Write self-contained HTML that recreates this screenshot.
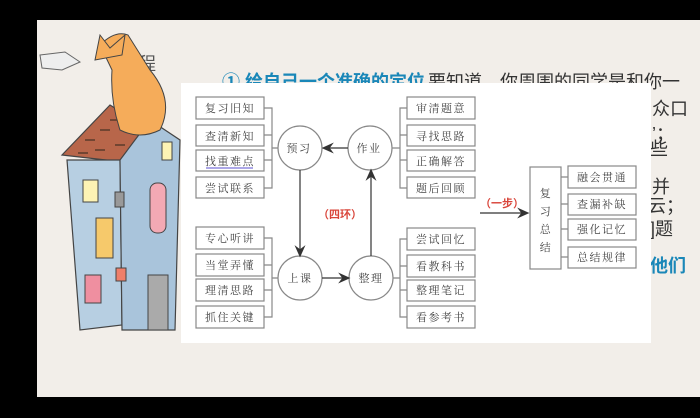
<!DOCTYPE html>
<html><head><meta charset="utf-8"><style>
body{margin:0;width:700px;height:418px;background:#000;overflow:hidden;position:relative;font-family:"Liberation Sans","Noto Sans CJK SC",sans-serif}
.slide{position:absolute;left:37px;top:20px;width:663px;height:377px;background:#f2eee9}
.t{position:absolute;font-size:18px;color:#333;white-space:nowrap}
.b{color:#1a87b8;font-weight:bold}
</style></head><body>
<div class="slide"></div>
<div class="t" style="left:138px;top:50px;color:#555">程</div>
<div class="t b" style="left:222px;top:68px">① 给自己一个准确的定位</div>
<div class="t" style="left:428px;top:68px">要知道，你周围的同学是和你一</div>
<div class="t" style="left:652px;top:95px">众口</div>
<div class="t" style="left:652px;top:120px">’；</div>
<div class="t" style="left:650px;top:135px">些</div>
<div class="t" style="left:652px;top:173px">并</div>
<div class="t" style="left:648px;top:192px">云；</div>
<div class="t" style="left:650px;top:215px">]题</div>
<div class="t b" style="left:650px;top:252px">他们</div>
<svg width="700" height="418" style="position:absolute;left:0;top:0">
<!-- house -->
<path d="M62 155 L110 105 L150 130 L150 165 Z" fill="#b8664a" stroke="#444" stroke-width="1.2"/>
<path d="M67 160 L120 160 L122 325 L80 330 Z" fill="#b7cfe2" stroke="#444" stroke-width="1.2"/>
<path d="M120 160 L150 120 L180 140 L175 330 L122 330 Z" fill="#a9c4db" stroke="#444" stroke-width="1.2"/>
<g stroke="#5a3a2a" stroke-width="1.5"><line x1="85" y1="140" x2="95" y2="140"/><line x1="100" y1="130" x2="110" y2="130"/><line x1="115" y1="145" x2="125" y2="145"/><line x1="78" y1="153" x2="88" y2="153"/><line x1="95" y1="150" x2="105" y2="150"/><line x1="110" y1="120" x2="120" y2="120"/></g>
<rect x="83" y="180" width="15" height="22" fill="#fdf3b4" stroke="#444"/>
<rect x="96" y="218" width="17" height="40" fill="#f6c96b" stroke="#444"/>
<rect x="85" y="275" width="16" height="28" fill="#ef8fa0" stroke="#444"/>
<rect x="150" y="183" width="16" height="50" rx="7" fill="#f3a9b4" stroke="#444"/>
<rect x="115" y="192" width="9" height="15" fill="#999" stroke="#444"/>
<rect x="116" y="268" width="10" height="13" fill="#ef7f6a" stroke="#444"/>
<rect x="148" y="275" width="20" height="55" fill="#aaa" stroke="#444"/>
<rect x="162" y="142" width="10" height="18" fill="#fdf3b4" stroke="#444"/>
<!-- fox -->
<path d="M100 45 Q115 30 128 35 L150 70 Q175 100 160 130 Q140 140 120 130 Q110 100 112 70 Z" fill="#f5ac5a" stroke="#444"/>
<path d="M95 60 L100 35 L110 48 L125 35 L122 55 Z" fill="#f5ac5a" stroke="#444"/>
<path d="M40 55 L65 52 L80 62 L62 70 L42 68 Z" fill="#eee" stroke="#666"/>
<!-- panel -->
<rect x="181" y="83" width="470" height="260" fill="#fff"/>
<g fill="#fff" stroke="#888" stroke-width="1.2">
<rect x="196" y="97" width="68" height="22"/><rect x="196" y="125" width="68" height="21"/><rect x="196" y="150" width="68" height="21"/><rect x="196" y="177" width="68" height="21"/>
<rect x="196" y="227" width="68" height="22"/><rect x="196" y="254" width="68" height="22"/><rect x="196" y="279" width="68" height="22"/><rect x="196" y="306" width="68" height="22"/>
<rect x="407" y="97" width="68" height="22"/><rect x="407" y="125" width="68" height="21"/><rect x="407" y="150" width="68" height="21"/><rect x="407" y="177" width="68" height="21"/>
<rect x="407" y="228" width="68" height="22"/><rect x="407" y="255" width="68" height="22"/><rect x="407" y="280" width="68" height="21"/><rect x="407" y="306" width="68" height="22"/>
<rect x="530" y="167" width="31" height="102"/>
<rect x="568" y="166" width="68" height="22"/><rect x="568" y="194" width="68" height="21"/><rect x="568" y="219" width="68" height="21"/><rect x="568" y="247" width="68" height="21"/>
<circle cx="300" cy="148" r="22"/><circle cx="370" cy="148" r="22"/><circle cx="300" cy="278" r="22"/><circle cx="371" cy="278" r="22"/>
</g>
<g fill="none" stroke="#888" stroke-width="1.2">
<path d="M264 108 H272 V188 H264 M264 135 H272 M264 160 H272 M272 148 H278"/>
<path d="M264 238 H272 V317 H264 M264 265 H272 M264 290 H272 M272 278 H278"/>
<path d="M407 108 H400 V188 H407 M407 135 H400 M407 160 H400 M400 148 H392"/>
<path d="M407 239 H400 V317 H407 M407 266 H400 M407 290 H400 M400 278 H393"/>
<path d="M568 177 H561 M568 204 H561 M568 229 H561 M568 257 H561"/>
</g>
<g stroke="#333" stroke-width="1.2" fill="#333">
<line x1="348" y1="148" x2="326" y2="148"/><path d="M323 148 L332 144 L329 148 L332 152Z"/>
<line x1="300" y1="170" x2="300" y2="252"/><path d="M300 256 L296 247 L300 250 L304 247Z"/>
<line x1="322" y1="278" x2="345" y2="278"/><path d="M349 278 L340 274 L343 278 L340 282Z"/>
<line x1="371" y1="256" x2="371" y2="174"/><path d="M371 170 L367 179 L371 176 L375 179Z"/>
<line x1="480" y1="213" x2="524" y2="213"/><path d="M528 213 L519 209 L522 213 L519 217Z"/>
</g>
<g font-family="'Liberation Serif','Noto Serif CJK SC',serif" font-size="11" fill="#444" text-anchor="middle" letter-spacing="1.5">
<text x="230" y="112">复习旧知</text><text x="230" y="140">查清新知</text><text x="230" y="165">找重难点</text><text x="230" y="192">尝试联系</text>
<text x="230" y="242">专心听讲</text><text x="230" y="269">当堂弄懂</text><text x="230" y="294">理清思路</text><text x="230" y="321">抓住关键</text>
<text x="441" y="112">审清题意</text><text x="441" y="140">寻找思路</text><text x="441" y="165">正确解答</text><text x="441" y="192">题后回顾</text>
<text x="441" y="243">尝试回忆</text><text x="441" y="270">看教科书</text><text x="441" y="294">整理笔记</text><text x="441" y="321">看参考书</text>
<text x="602" y="181">融会贯通</text><text x="602" y="208">查漏补缺</text><text x="602" y="233">强化记忆</text><text x="602" y="261">总结规律</text>
<text x="299" y="152">预习</text><text x="369" y="152">作业</text><text x="300" y="282">上课</text><text x="371" y="282">整理</text>
<text x="546" y="197">复</text><text x="546" y="215">习</text><text x="546" y="233">总</text><text x="546" y="251">结</text>
</g>
<line x1="206" y1="168" x2="253" y2="168" stroke="#5a4fcf" stroke-width="1"/>
<g font-family="'Liberation Sans','Noto Sans CJK SC',sans-serif" font-size="11" fill="#d9453a" font-weight="bold">
<text x="318" y="218">（四环）</text><text x="480" y="207">（一步）</text>
</g>
</svg>
</body></html>
